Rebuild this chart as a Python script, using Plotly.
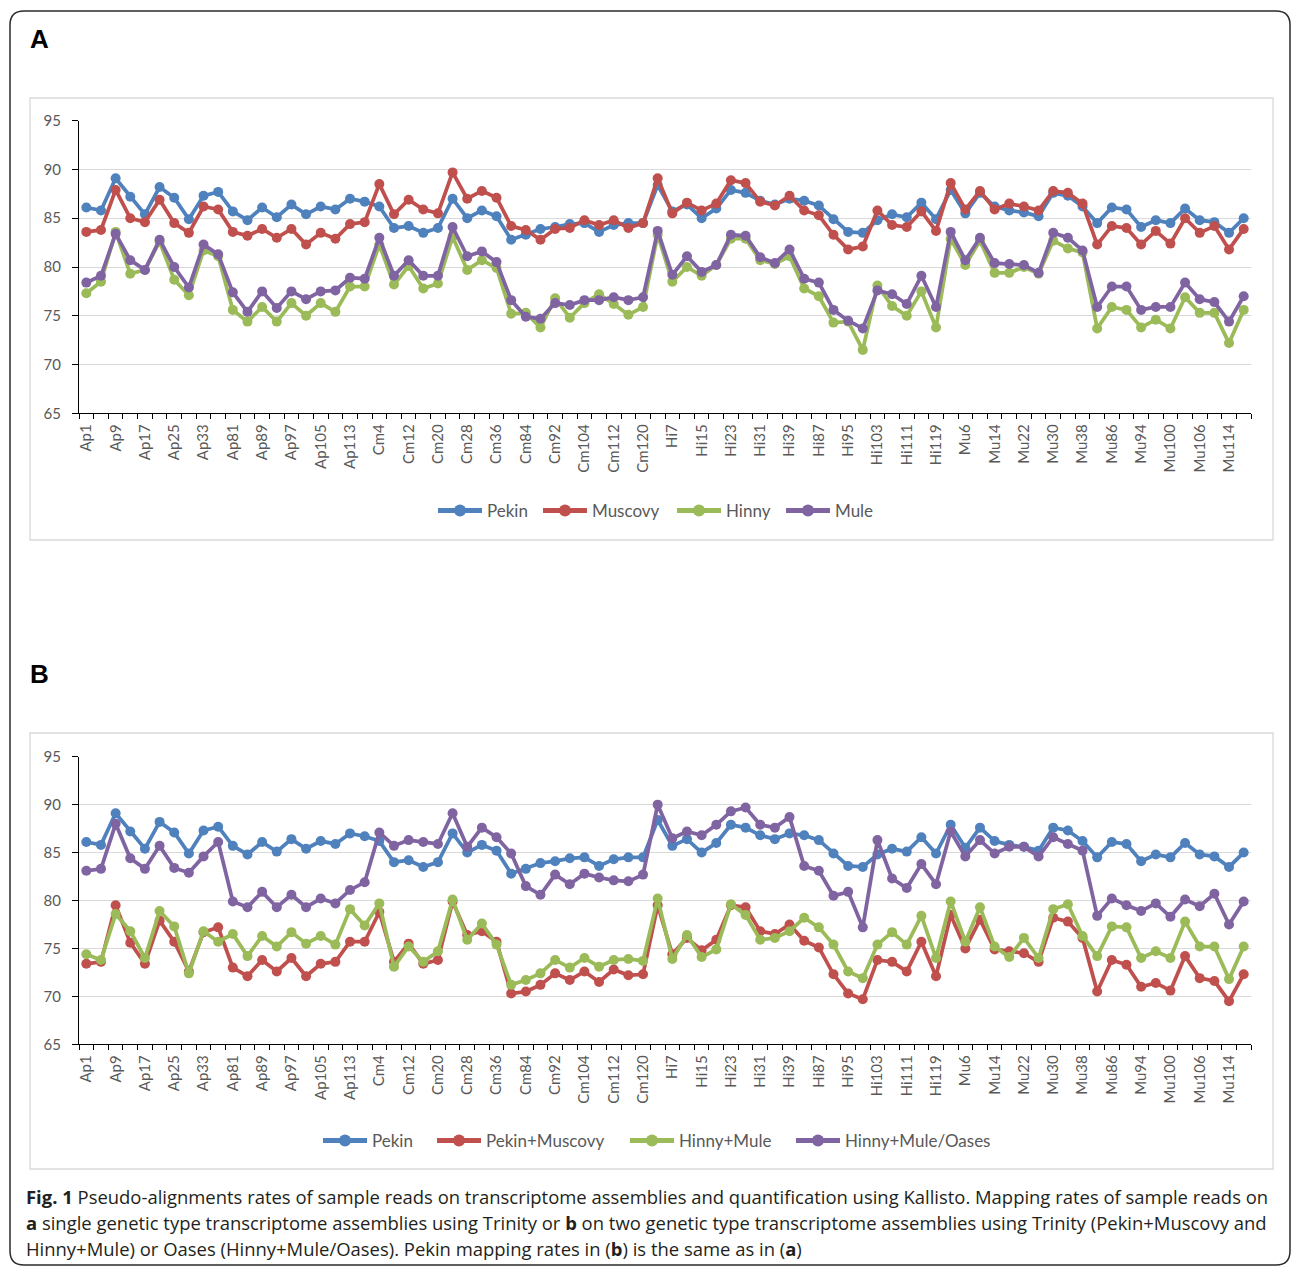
import plotly.graph_objects as go

W, H = 1292, 1267

# ---------------- data ----------------
samples = [
    "Ap1", "Ap5", "Ap9", "Ap13", "Ap17", "Ap21", "Ap25", "Ap29", "Ap33", "Ap37",
    "Ap81", "Ap85", "Ap89", "Ap93", "Ap97", "Ap101", "Ap105", "Ap109", "Ap113", "Ap117",
    "Cm4", "Cm8", "Cm12", "Cm16", "Cm20", "Cm24", "Cm28", "Cm32", "Cm36", "Cm40",
    "Cm84", "Cm88", "Cm92", "Cm100", "Cm104", "Cm108", "Cm112", "Cm116", "Cm120", "Cm124",
    "Hi7", "Hi11", "Hi15", "Hi19", "Hi23", "Hi27", "Hi31", "Hi35", "Hi39", "Hi43",
    "Hi87", "Hi91", "Hi95", "Hi99", "Hi103", "Hi107", "Hi111", "Hi115", "Hi119", "Hi123",
    "Mu6", "Mu10", "Mu14", "Mu18", "Mu22", "Mu26", "Mu30", "Mu34", "Mu38", "Mu42",
    "Mu86", "Mu90", "Mu94", "Mu98", "Mu100", "Mu102", "Mu106", "Mu110", "Mu114", "Mu118",
]

# Panel A (single genetic type assemblies, Trinity)
pekin = [
    86.1, 85.8, 89.1, 87.2, 85.4, 88.2, 87.1, 84.9, 87.3, 87.7,
    85.7, 84.8, 86.1, 85.1, 86.4, 85.4, 86.2, 85.9, 87.0, 86.7,
    86.2, 84.0, 84.2, 83.5, 84.0, 87.0, 85.0, 85.8, 85.2, 82.8,
    83.3, 83.9, 84.1, 84.4, 84.5, 83.6, 84.3, 84.5, 84.5, 88.4,
    85.7, 86.4, 85.0, 86.0, 87.9, 87.6, 86.8, 86.4, 87.0, 86.8,
    86.3, 84.9, 83.6, 83.5, 84.8, 85.4, 85.1, 86.6, 84.9, 87.9,
    85.5, 87.6, 86.2, 85.8, 85.6, 85.2, 87.6, 87.3, 86.2, 84.5,
    86.1, 85.9, 84.1, 84.8, 84.5, 86.0, 84.8, 84.6, 83.5, 85.0,
]
muscovy = [
    83.6, 83.8, 87.9, 85.0, 84.6, 86.9, 84.5, 83.5, 86.2, 85.9,
    83.6, 83.2, 83.9, 83.0, 83.9, 82.3, 83.5, 82.9, 84.4, 84.6,
    88.5, 85.4, 86.9, 85.9, 85.5, 89.7, 87.0, 87.8, 87.1, 84.2,
    83.8, 82.8, 83.9, 84.0, 84.8, 84.3, 84.8, 84.0, 84.5, 89.1,
    85.5, 86.6, 85.8, 86.5, 88.9, 88.6, 86.7, 86.3, 87.3, 85.8,
    85.3, 83.3, 81.8, 82.1, 85.8, 84.3, 84.1, 85.7, 83.7, 88.6,
    85.9, 87.8, 85.9, 86.5, 86.2, 85.8, 87.8, 87.6, 86.5, 82.3,
    84.2, 84.0, 82.3, 83.7, 82.4, 85.0, 83.5, 84.2, 81.8, 83.9,
]
hinny = [
    77.3, 78.5, 83.6, 79.3, 79.7, 82.6, 78.7, 77.1, 81.7, 81.1,
    75.6, 74.4, 75.9, 74.4, 76.3, 75.0, 76.3, 75.4, 78.0, 78.0,
    82.3, 78.2, 80.1, 77.8, 78.3, 83.1, 79.7, 80.7, 79.9, 75.2,
    75.3, 73.8, 76.8, 74.8, 76.3, 77.2, 76.2, 75.1, 75.9, 83.3,
    78.5, 80.0, 79.1, 80.2, 82.9, 82.9, 80.7, 80.3, 81.1, 77.8,
    77.0, 74.3, 74.4, 71.5, 78.1, 76.0, 75.0, 77.5, 73.8, 82.9,
    80.2, 82.7, 79.4, 79.4, 80.0, 79.3, 82.7, 81.9, 81.5, 73.7,
    75.9, 75.6, 73.8, 74.6, 73.7, 76.9, 75.3, 75.3, 72.2, 75.6,
]
mule = [
    78.4, 79.1, 83.4, 80.7, 79.7, 82.8, 80.0, 77.9, 82.3, 81.3,
    77.4, 75.4, 77.5, 75.8, 77.5, 76.7, 77.5, 77.6, 78.9, 78.8,
    83.0, 79.1, 80.7, 79.1, 79.1, 84.1, 81.1, 81.6, 80.5, 76.6,
    74.9, 74.7, 76.3, 76.1, 76.6, 76.6, 76.9, 76.6, 76.9, 83.7,
    79.2, 81.1, 79.5, 80.2, 83.3, 83.2, 81.0, 80.4, 81.8, 78.8,
    78.4, 75.6, 74.5, 73.7, 77.6, 77.2, 76.2, 79.1, 75.9, 83.6,
    80.7, 83.0, 80.4, 80.3, 80.2, 79.4, 83.5, 83.0, 81.7, 75.9,
    78.0, 78.0, 75.6, 75.9, 75.9, 78.4, 76.7, 76.4, 74.4, 77.0,
]

# Panel B (two genetic type assemblies); Pekin is the same as in A
pekin_muscovy = [
    73.4, 73.6, 79.5, 75.6, 73.4, 77.9, 75.7, 72.6, 76.7, 77.2,
    73.0, 72.1, 73.8, 72.6, 74.0, 72.1, 73.4, 73.6, 75.7, 75.7,
    78.8, 73.6, 75.5, 73.4, 73.8, 79.9, 76.4, 76.8, 75.7, 70.3,
    70.5, 71.2, 72.4, 71.7, 72.6, 71.5, 72.8, 72.2, 72.3, 79.5,
    74.4, 76.1, 74.8, 75.9, 79.5, 79.3, 76.8, 76.5, 77.5, 75.8,
    75.1, 72.3, 70.3, 69.7, 73.8, 73.6, 72.6, 75.7, 72.1, 78.5,
    75.0, 78.0, 74.9, 74.7, 74.5, 73.6, 78.2, 77.8, 76.1, 70.5,
    73.8, 73.3, 71.0, 71.4, 70.6, 74.2, 71.9, 71.6, 69.5, 72.3,
]
hinny_mule = [
    74.4, 73.8, 78.6, 76.8, 74.0, 78.9, 77.3, 72.4, 76.8, 75.7,
    76.5, 74.2, 76.3, 75.2, 76.7, 75.5, 76.3, 75.4, 79.1, 77.4,
    79.7, 73.1, 75.2, 73.6, 74.7, 80.1, 75.9, 77.6, 75.4, 71.2,
    71.7, 72.4, 73.8, 73.0, 74.0, 73.1, 73.8, 73.9, 73.7, 80.2,
    73.9, 76.4, 74.1, 74.9, 79.6, 78.5, 75.9, 76.1, 76.8, 78.2,
    77.2, 75.4, 72.6, 71.9, 75.4, 76.7, 75.4, 78.4, 74.0, 79.9,
    75.7, 79.3, 75.2, 74.1, 76.1, 74.0, 79.1, 79.6, 76.3, 74.2,
    77.3, 77.2, 74.0, 74.7, 74.0, 77.8, 75.2, 75.2, 71.8, 75.2,
]
hinny_mule_oases = [
    83.1, 83.3, 88.0, 84.4, 83.3, 85.7, 83.4, 82.9, 84.6, 86.1,
    79.9, 79.3, 80.9, 79.3, 80.6, 79.3, 80.2, 79.7, 81.1, 81.9,
    87.1, 85.7, 86.3, 86.1, 85.9, 89.1, 85.6, 87.6, 86.6, 84.9,
    81.5, 80.6, 82.7, 81.7, 82.8, 82.4, 82.1, 82.0, 82.7, 90.0,
    86.5, 87.2, 86.8, 87.9, 89.3, 89.7, 87.9, 87.6, 88.7, 83.6,
    83.1, 80.5, 80.9, 77.2, 86.3, 82.3, 81.3, 83.8, 81.7, 87.2,
    84.6, 86.3, 84.9, 85.6, 85.6, 84.6, 86.6, 85.9, 85.2, 78.4,
    80.2, 79.5, 78.9, 79.7, 78.3, 80.1, 79.4, 80.7, 77.5, 79.9,
]

y_ticks = [65, 70, 75, 80, 85, 90, 95]

# ---------------- styling ----------------
C_BLUE, C_RED, C_GREEN, C_PURPLE = "#4F81BD", "#C0504D", "#9BBB59", "#8064A2"
GRAY_TXT = "#595959"
TICK_FONT = dict(family="Lato, 'Open Sans', sans-serif", size=15, color=GRAY_TXT)


def px_x(px):
    return px / W


def px_y(py):
    return 1 - py / H


idx = list(range(len(samples)))

fig = go.Figure()

panelA = [("Pekin", pekin, C_BLUE), ("Muscovy", muscovy, C_RED),
          ("Hinny", hinny, C_GREEN), ("Mule", mule, C_PURPLE)]
panelB = [("Pekin", pekin, C_BLUE), ("Pekin+Muscovy", pekin_muscovy, C_RED),
          ("Hinny+Mule", hinny_mule, C_GREEN), ("Hinny+Mule/Oases", hinny_mule_oases, C_PURPLE)]

# each legend entry gets its own legend box so the entry spacing follows the original
legA_sym_px = [438, 543, 677, 786]
legB_sym_px = [323, 437, 630, 796]
LEG_OFF = 5  # legend box left edge -> start of symbol line

legend_ids = []
n = 0
for (name, vals, col) in panelA:
    n += 1
    lid = "legend" if n == 1 else f"legend{n}"
    legend_ids.append(lid)
    fig.add_trace(go.Scatter(x=idx, y=vals, name=name, mode="lines+markers",
                             line=dict(color=col, width=3.75),
                             marker=dict(color=col, size=10), showlegend=True,
                             xaxis="x", yaxis="y", legend=lid))
for (name, vals, col) in panelB:
    n += 1
    lid = f"legend{n}"
    legend_ids.append(lid)
    fig.add_trace(go.Scatter(x=idx, y=vals, name=name, mode="lines+markers",
                             line=dict(color=col, width=3.75),
                             marker=dict(color=col, size=10), showlegend=True,
                             xaxis="x2", yaxis="y2", legend=lid))

xdom = [px_x(79), px_x(1251)]


def xaxis_cfg(anchor):
    return dict(domain=xdom, anchor=anchor, range=[-0.5, len(samples) - 0.5],
                tickmode="array", tickvals=idx[::2], ticktext=samples[::2],
                tickangle=-90, tickfont=TICK_FONT, ticks="",
                showline=True, linecolor="black", linewidth=1,
                showgrid=False, zeroline=False, automargin=False,
                minor=dict(tickmode="linear", tick0=-0.5, dtick=1, ticks="outside",
                           ticklen=5, tickcolor="black", tickwidth=1, showgrid=False),
                ticklabelstandoff=4, fixedrange=True)


def yaxis_cfg(anchor, dom):
    return dict(domain=dom, anchor=anchor, range=[65, 95],
                tickmode="array", tickvals=y_ticks, tickfont=TICK_FONT,
                ticks="outside", ticklen=6, tickcolor="black",
                showline=True, linecolor="black", linewidth=1,
                showgrid=True, gridcolor="#D9D9D9", gridwidth=1.3,
                zeroline=False, automargin=False, ticklabelstandoff=8, fixedrange=True)


legend_common = dict(orientation="h", xanchor="left", yanchor="middle",
                     font=dict(family="Lato, 'Open Sans', sans-serif", size=17, color=GRAY_TXT),
                     bgcolor="rgba(0,0,0,0)", itemsizing="constant", itemwidth=44,
                     tracegroupgap=0, borderwidth=0)

layout_legends = {}
for i, lid in enumerate(legend_ids):
    if i < 4:
        xpx, ypx = legA_sym_px[i], 511
    else:
        xpx, ypx = legB_sym_px[i - 4], 1141
    layout_legends[lid] = dict(x=px_x(xpx - LEG_OFF), y=px_y(ypx), visible=True, **legend_common)

fig.update_layout(
    width=W, height=H,
    margin=dict(l=0, r=0, t=0, b=0, pad=0, autoexpand=False),
    paper_bgcolor="white", plot_bgcolor="white",
    showlegend=True,
    xaxis=xaxis_cfg("y"),
    yaxis=yaxis_cfg("x", [px_y(413.3), px_y(120.7)]),
    xaxis2=xaxis_cfg("y2"),
    yaxis2=yaxis_cfg("x2", [px_y(1044.3), px_y(756.7)]),
    **layout_legends,
)

# frames
r = 14
x0, y0, x1, y1 = px_x(10), px_y(11), px_x(1290), px_y(1265)
rx, ry = r / W, r / H
path = (f"M {x0 + rx},{y0} L {x1 - rx},{y0} Q {x1},{y0} {x1},{y0 - ry} "
        f"L {x1},{y1 + ry} Q {x1},{y1} {x1 - rx},{y1} "
        f"L {x0 + rx},{y1} Q {x0},{y1} {x0},{y1 + ry} "
        f"L {x0},{y0 - ry} Q {x0},{y0} {x0 + rx},{y0} Z")
shapes = [
    dict(type="path", path=path, xref="paper", yref="paper",
         line=dict(color="#2b2b2b", width=1.5), layer="below"),
    dict(type="rect", xref="paper", yref="paper",
         x0=px_x(30), x1=px_x(1273), y0=px_y(540), y1=px_y(98),
         line=dict(color="#D9D9D9", width=1.3), layer="below"),
    dict(type="rect", xref="paper", yref="paper",
         x0=px_x(30), x1=px_x(1273), y0=px_y(1169), y1=px_y(733),
         line=dict(color="#D9D9D9", width=1.3), layer="below"),
]
fig.update_layout(shapes=shapes)

annots = [
    dict(text="<b>A</b>", x=px_x(28), y=px_y(39)),
    dict(text="<b>B</b>", x=px_x(28), y=px_y(674)),
]
for a in annots:
    fig.add_annotation(xref="paper", yref="paper", xanchor="left", yanchor="middle",
                       showarrow=False, font=dict(family="Liberation Sans, Arial", size=26, color="black"),
                       **a)

caption = [
    "<b>Fig. 1</b> Pseudo-alignments rates of sample reads on transcriptome assemblies and quantification using Kallisto. Mapping rates of sample reads on",
    "<b>a</b> single genetic type transcriptome assemblies using Trinity or <b>b</b> on two genetic type transcriptome assemblies using Trinity (Pekin+Muscovy and",
    "Hinny+Mule) or Oases (Hinny+Mule/Oases). Pekin mapping rates in (<b>b</b>) is the same as in (<b>a</b>)",
]
for i, line in enumerate(caption):
    fig.add_annotation(xref="paper", yref="paper", xanchor="left", yanchor="middle",
                       x=px_x(24), y=px_y(1196 + 26 * i), text=line, showarrow=False,
                       font=dict(family="'Open Sans', sans-serif", size=18.45, color="#231F20"))

fig.write_html("out.html", config={"displayModeBar": False})
